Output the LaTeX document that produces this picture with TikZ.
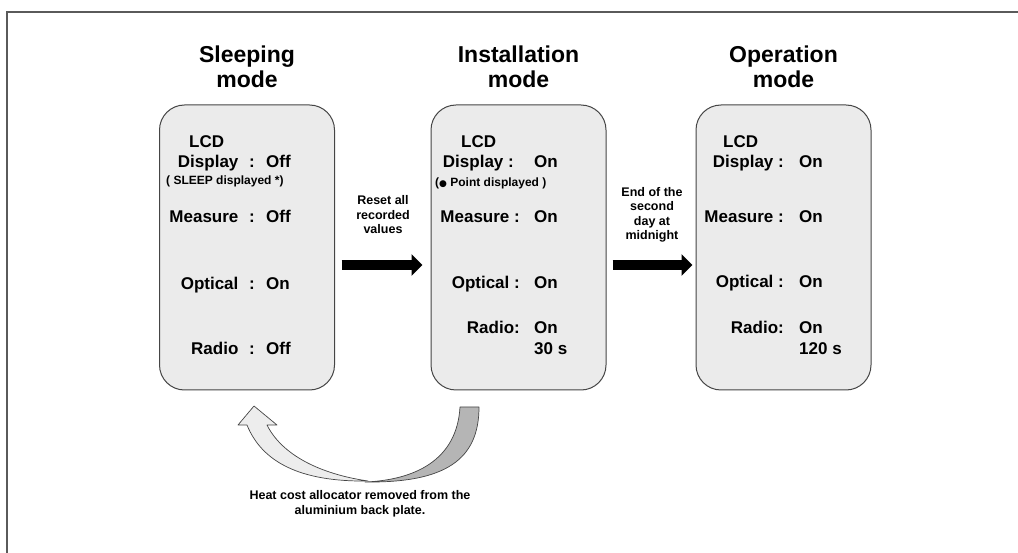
\documentclass[tikz,border=0pt]{standalone}
\usepackage{fontspec}
\setmainfont{Liberation Sans}
\newfontfamily\dejavu{DejaVu Sans}
\usepackage{tikz}
\usetikzlibrary{arrows.meta}
\definecolor{boxfill}{HTML}{EBEBEB}
\definecolor{boxline}{HTML}{454545}
\definecolor{framegray}{HTML}{5A5A5A}
\definecolor{darkband}{HTML}{B5B5B5}
\definecolor{lightband}{HTML}{EDEDED}

\begin{document}
\begin{tikzpicture}[x=1pt,y=1pt]
\tikzstyle{every node}+=[inner sep=0pt]
\tikzstyle{modebox}=[draw=boxline, fill=boxfill, line width=1pt, rounded corners=25pt, minimum width=175pt, minimum height=285pt]
\tikzstyle{title}=[font=\fontsize{23}{25.5}\selectfont\bfseries, align=center, anchor=base]
\tikzstyle{lbl}=[font=\fontsize{17}{20}\selectfont\bfseries, anchor=base east]
\tikzstyle{val}=[font=\fontsize{17}{20}\selectfont\bfseries, anchor=base west]
\tikzstyle{note}=[font=\fontsize{12}{14}\selectfont\bfseries, anchor=base west]
\tikzstyle{small}=[font=\fontsize{12.5}{14.5}\selectfont\bfseries, align=center, anchor=base]
\tikzstyle{blockarrow}=[black, line width=10pt, -{Triangle[length=11pt,width=21pt]}]
\tikzstyle{band}=[draw=boxline, line width=0.7pt, line join=round]
\useasboundingbox (0,0) rectangle (1018,-553);
\draw [framegray, line width=2pt] (7,-553) -- (7,-12) -- (1018,-12);
\node [title] (sleept) at (247,-88) {Sleeping\\mode};
\node [title] (instt) at (518.5,-88) {Installation\\mode};
\node [title] (opert) at (783.5,-88) {Operation\\mode};
\node [modebox] (sleep) at (247,-247.5) {};
\node [modebox] (inst) at (518.5,-247.5) {};
\node [modebox] (oper) at (783.5,-247.5) {};
\node [val] (s1) at (189,-148) {LCD};
\node [lbl] (s2) at (255,-168) {Display\hspace{6pt} :};
\node [val] (s2v) at (266,-168) {Off};
\node [note] (s2n) at (166,-185) {( SLEEP displayed *)};
\node [lbl] (s3) at (255,-223) {Measure\hspace{6pt} :};
\node [val] (s3v) at (266,-223) {Off};
\node [lbl] (s4) at (255,-290) {Optical\hspace{6pt} :};
\node [val] (s4v) at (266,-290) {On};
\node [lbl] (s5) at (255,-355) {Radio\hspace{6pt} :};
\node [val] (s5v) at (266,-355) {Off};
\node [val] (i1) at (461,-148) {LCD};
\node [lbl] (i2) at (514,-168) {Display :};
\node [val] (i2v) at (534,-168) {On};
\node [note] (i2n) at (435,-187) {({\dejavu\fontsize{9}{10}\selectfont ●} Point displayed )};
\node [lbl] (i3) at (520,-223) {Measure :};
\node [val] (i3v) at (534,-223) {On};
\node [lbl] (i4) at (520,-289) {Optical :};
\node [val] (i4v) at (534,-289) {On};
\node [lbl] (i5) at (520,-334) {Radio:};
\node [val] (i5v) at (534,-334) {On};
\node [val] (i6v) at (534,-355) {30 s};
\node [val] (o1) at (723,-148) {LCD};
\node [lbl] (o2) at (784,-168) {Display :};
\node [val] (o2v) at (799,-168) {On};
\node [lbl] (o3) at (784,-223) {Measure :};
\node [val] (o3v) at (799,-223) {On};
\node [lbl] (o4) at (784,-288) {Optical :};
\node [val] (o4v) at (799,-288) {On};
\node [lbl] (o5) at (784,-334) {Radio:};
\node [val] (o5v) at (799,-334) {On};
\node [val] (o6v) at (799,-355) {120 s};
\draw [blockarrow] ([xshift=6.5pt,yshift=-17.5pt]sleep.east) -- ([xshift=-8pt,yshift=-17.5pt]inst.west);
\draw [blockarrow] ([xshift=6pt,yshift=-17.5pt]inst.east) -- ([xshift=-3pt,yshift=-17.5pt]oper.west);
\node [small] (reset) at (383,-234) {Reset all\\recorded\\values};
\node [small] (night) at (652,-240) {End of the\\second\\day at\\midnight};
\filldraw [band, fill=lightband] (254,-406) -- (277,-425) -- (267,-425) .. controls (282,-455) and (320,-474) .. (368,-481) .. controls (300,-482) and (262,-462) .. (247,-425) -- (238,-425) -- cycle;
\filldraw [band, fill=darkband] (460,-407) -- (479,-407) .. controls (479,-460) and (445,-483) .. (365,-482) .. controls (415,-480) and (457,-460) .. (460,-407) -- cycle;
\node [small] (removed) at (360,-514) {Heat cost allocator removed from the\\aluminium back plate.};
\end{tikzpicture}
\end{document}
